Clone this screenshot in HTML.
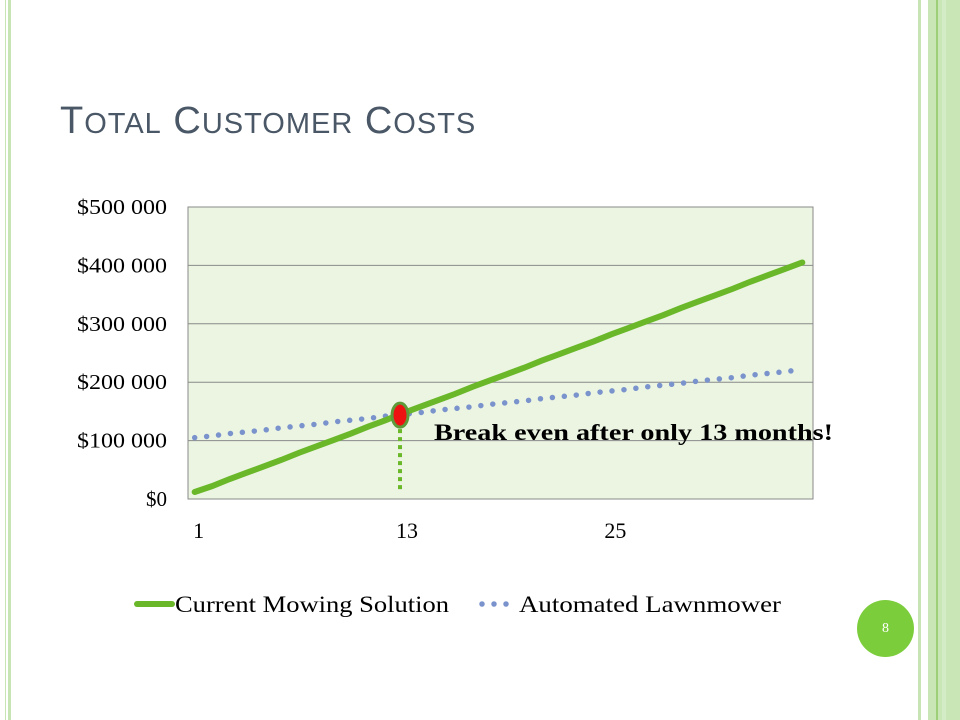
<!DOCTYPE html>
<html><head><meta charset="utf-8"><style>
body{margin:0;width:960px;height:720px;background:#fff;position:relative;overflow:hidden;font-family:"Liberation Serif",serif}
.s{position:absolute;top:0;height:720px}
</style></head><body>
<div class="s" style="left:5px;width:1px;background:#c6e4b4"></div>
<div class="s" style="left:8px;width:3px;background:#c6e4b4"></div>
<div class="s" style="left:918px;width:3px;background:#c6e4b4"></div>
<div class="s" style="left:928px;width:32px;background:#c8e6b6"></div>
<div class="s" style="left:936px;width:2px;background:#9ccf78"></div>
<div class="s" style="left:942px;width:4px;background:#d4ecc6"></div>
<div style="position:absolute;left:60px;top:100px;font-family:'Liberation Sans',sans-serif;color:#4a5766;font-size:38px;letter-spacing:1px">T<span style="font-size:29px">OTAL</span> C<span style="font-size:29px">USTOMER</span> C<span style="font-size:29px">OSTS</span></div>
<svg id="chart" width="960" height="720" style="position:absolute;left:0;top:0"></svg>
<div style="position:absolute;left:857px;top:600px;width:57px;height:57px;border-radius:50%;background:#7ccd3c;color:#fff;font-size:14px;text-align:center;line-height:57px">8</div>
<script>
const months=[];for(let i=1;i<=36;i++)months.push(i);
const currentCosts=[12,22,34,45,56,67,79,90,101,112,124,135,147,158,169,180,192,203,214,225,237,248,259,270,282,293,304,315,327,338,349,360,372,383,394,405];
const automatedCosts=[105,108,112,115,118,122,125,128,132,135,138,142,145,148,152,155,158,162,165,168,172,175,178,182,185,188,192,195,198,202,205,208,212,215,218,222];
const yTicks=[0,100,200,300,400,500];
const yLabels=["$0","$100 000","$200 000","$300 000","$400 000","$500 000"];
const xLabelIdx=[1,13,25];
const breakEven=13;
const NS="http://www.w3.org/2000/svg";
const svg=document.getElementById('chart');
const L=188,R=813,T=207,B=499;
const step=(R-L)/months.length;
const x=m=>L+step*(m-0.5)-2;
const y=v=>B-(v/500)*(B-T);
function mk(t,a){const e=document.createElementNS(NS,t);for(const k in a)e.setAttribute(k,a[k]);svg.appendChild(e);return e;}
let e=mk('rect',{x:L,y:T,width:R-L,height:B-T,fill:'#ebf5e2',stroke:'#8a8a8a','stroke-width':1});


yTicks.forEach((v,i)=>{
 const g=mk('line',{x1:L,x2:R,y1:y(v),y2:y(v),stroke:'#8a8a8a','stroke-width':1});
 
 
 const t=mk('text',{x:167,y:y(v)+7,'text-anchor':'end','font-size':21,fill:'#000','font-family':'Liberation Serif, serif'});
 t.textContent=yLabels[i];
 if(yLabels[i].length>2){t.setAttribute('textLength',yLabels[i]==="$0"?0:90);t.setAttribute('lengthAdjust','spacingAndGlyphs');}
 
 
});
xLabelIdx.forEach(m=>{
 const t=mk('text',{x:x(m)+4,y:538,'text-anchor':'middle','font-size':22,'font-family':'Liberation Serif, serif'});
 t.textContent=String(m);
 
 
});
const pts=a=>a.map((v,i)=>x(months[i])+','+y(v)).join(' ');
e=mk('polyline',{points:pts(automatedCosts),fill:'none',stroke:'#7a93cc','stroke-width':5.5,'stroke-dasharray':'0 12','stroke-linecap':'round'});


e=mk('polyline',{points:pts(currentCosts),fill:'none',stroke:'#6ab82a','stroke-width':6,'stroke-linecap':'round'});


const bx=x(breakEven)-3,by=y(currentCosts[breakEven-1]);
e=mk('line',{x1:bx,x2:bx,y1:by,y2:492,stroke:'#6ab82a','stroke-width':4,'stroke-dasharray':'4 4'});


e=mk('ellipse',{cx:bx,cy:by+2,rx:8,ry:12,fill:'#ee1111',stroke:'#5f9a3a','stroke-width':3});


e=mk('text',{x:434,y:440,'font-size':23,'font-weight':'bold','font-family':'Liberation Serif, serif',textLength:399,lengthAdjust:'spacingAndGlyphs'});
e.textContent='Break even after only 13 months!';


e=mk('line',{x1:137,x2:172,y1:604,y2:604,stroke:'#6ab82a','stroke-width':6,'stroke-linecap':'round'});


e=mk('text',{x:175,y:612,'font-size':23,'font-family':'Liberation Serif, serif',textLength:274,lengthAdjust:'spacingAndGlyphs'});
e.textContent='Current Mowing Solution';


e=mk('line',{x1:482,x2:508,y1:604,y2:604,stroke:'#7a93cc','stroke-width':5.5,'stroke-dasharray':'0 12','stroke-linecap':'round'});


e=mk('text',{x:519,y:612,'font-size':23,'font-family':'Liberation Serif, serif',textLength:262,lengthAdjust:'spacingAndGlyphs'});
e.textContent='Automated Lawnmower';


</script>
</body></html>
